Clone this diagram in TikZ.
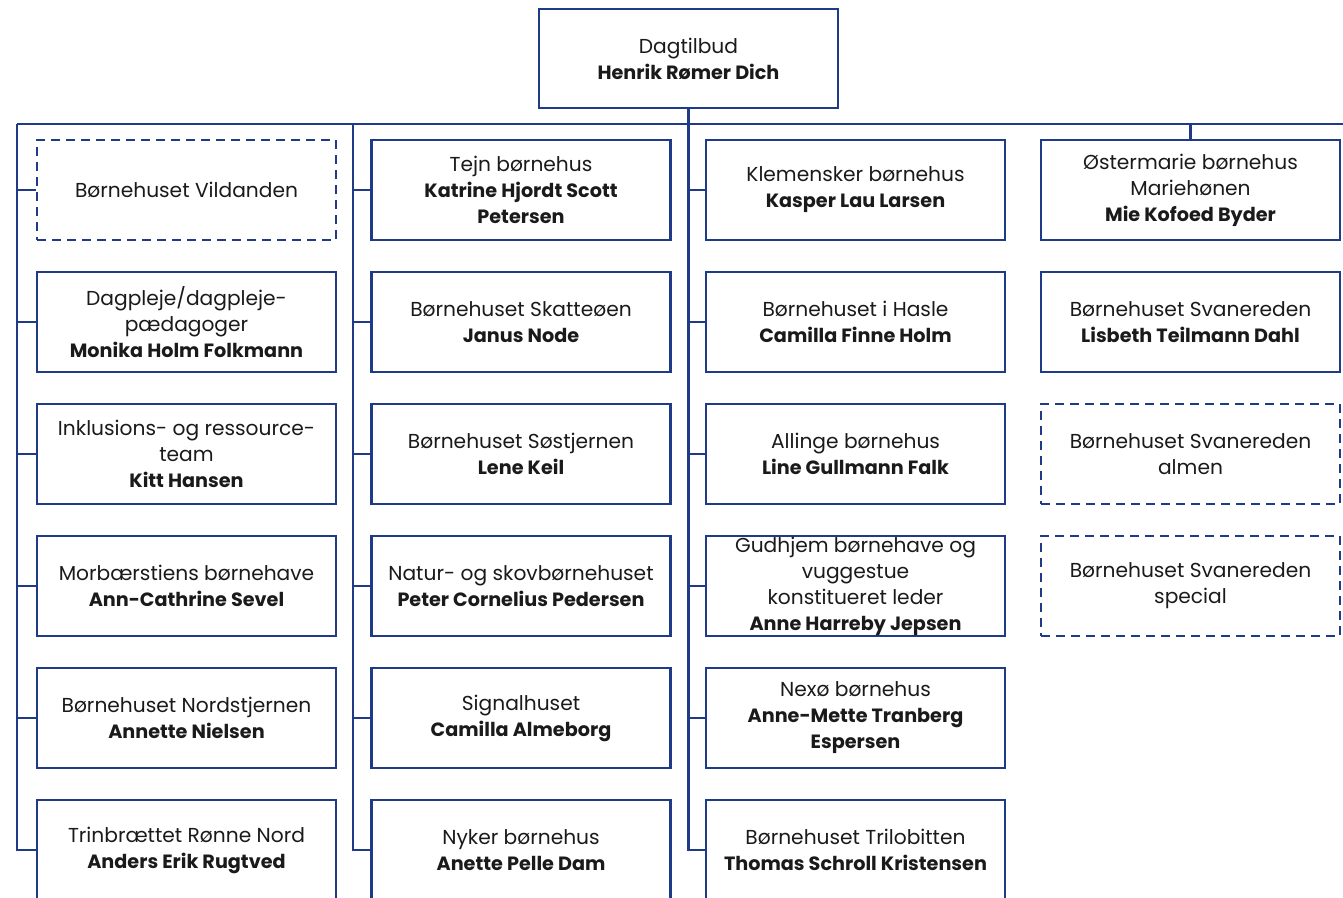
\documentclass[tikz,border=0pt]{standalone}
\usepackage{fontspec}
\setmainfont{Poppins}
\definecolor{orgblue}{HTML}{1F3A87}
\definecolor{txt}{HTML}{1A1A1A}
\newcommand\nm[1]{{\fontsize{19.2}{26}\selectfont\bfseries #1}}
\begin{document}
\begin{tikzpicture}[x=1pt,y=-1pt,
  orgbox/.style={draw=orgblue,line width=2.8pt,fill=white,minimum width=299pt,minimum height=100pt,
    inner sep=0pt,align=center,text=txt,font=\fontsize{20.2}{26}\selectfont},
  dashbox/.style={orgbox,dash pattern=on 9pt off 6pt},
  conn/.style={draw=orgblue,line width=2.8pt}]
\useasboundingbox[fill=white] (0,0) rectangle (1343,897);

\node[orgbox,minimum height=99pt] (top) at (688.5,58.5) {Dagtilbud\\\nm{Henrik Rømer Dich}};

% column A
\node[dashbox] (a1) at (186.5,190) {Børnehuset Vildanden};
\node[orgbox] (a2) at (186.5,322) {Dagpleje/dagpleje-\\pædagoger\\\nm{Monika Holm Folkmann}};
\node[orgbox] (a3) at (186.5,454) {Inklusions- og ressource-\\team\\\nm{Kitt Hansen}};
\node[orgbox] (a4) at (186.5,586) {Morbærstiens børnehave\\\nm{Ann-Cathrine Sevel}};
\node[orgbox] (a5) at (186.5,718) {Børnehuset Nordstjernen\\\nm{Annette Nielsen}};
\node[orgbox] (a6) at (186.5,850) {Trinbrættet Rønne Nord\\\nm{Anders Erik Rugtved}};

% column B
\node[orgbox] (b1) at (521,190) {Tejn børnehus\\\nm{Katrine Hjordt Scott}\\\nm{Petersen}};
\node[orgbox] (b2) at (521,322) {Børnehuset Skatteøen\\\nm{Janus Node}};
\node[orgbox] (b3) at (521,454) {Børnehuset Søstjernen\\\nm{Lene Keil}};
\node[orgbox] (b4) at (521,586) {Natur- og skovbørnehuset\\\nm{Peter Cornelius Pedersen}};
\node[orgbox] (b5) at (521,718) {Signalhuset\\\nm{Camilla Almeborg}};
\node[orgbox] (b6) at (521,850) {Nyker børnehus\\\nm{Anette Pelle Dam}};

% column C
\node[orgbox] (c1) at (855.5,190) {Klemensker børnehus\\\nm{Kasper Lau Larsen}};
\node[orgbox] (c2) at (855.5,322) {Børnehuset i Hasle\\\nm{Camilla Finne Holm}};
\node[orgbox] (c3) at (855.5,454) {Allinge børnehus\\\nm{Line Gullmann Falk}};
\node[orgbox] (c4) at (855.5,586) {Gudhjem børnehave og\\vuggestue\\konstitueret leder\\\nm{Anne Harreby Jepsen}};
\node[orgbox] (c5) at (855.5,718) {Nexø børnehus\\\nm{Anne-Mette Tranberg}\\\nm{Espersen}};
\node[orgbox] (c6) at (855.5,850) {Børnehuset Trilobitten\\\nm{Thomas Schroll Kristensen}};

% column D
\node[orgbox] (d1) at (1190.5,190) {Østermarie børnehus\\Mariehønen\\\nm{Mie Kofoed Byder}};
\node[orgbox] (d2) at (1190.5,322) {Børnehuset Svanereden\\\nm{Lisbeth Teilmann Dahl}};
\node[dashbox] (d3) at (1190.5,454) {Børnehuset Svanereden\\almen};
\node[dashbox] (d4) at (1190.5,586) {Børnehuset Svanereden\\special};

% connectors
\coordinate (busL) at (17,124);
\coordinate (busB) at (353,124);
\coordinate (busR) at (1343,124);
\draw[conn] (busL) -- (busR);
\draw[conn] (top.south) |- (c6.west);
\foreach \i in {1,...,5} {\draw[conn] (top.south |- c\i.west) -- (c\i.west);}
\draw[conn] (busL) |- (a6.west);
\foreach \i in {1,...,5} {\draw[conn] (busL |- a\i.west) -- (a\i.west);}
\draw[conn] (busB) |- (b6.west);
\foreach \i in {1,...,5} {\draw[conn] (busB |- b\i.west) -- (b\i.west);}
\draw[conn] (d1.north |- busR) -- (d1.north);
\end{tikzpicture}
\end{document}
